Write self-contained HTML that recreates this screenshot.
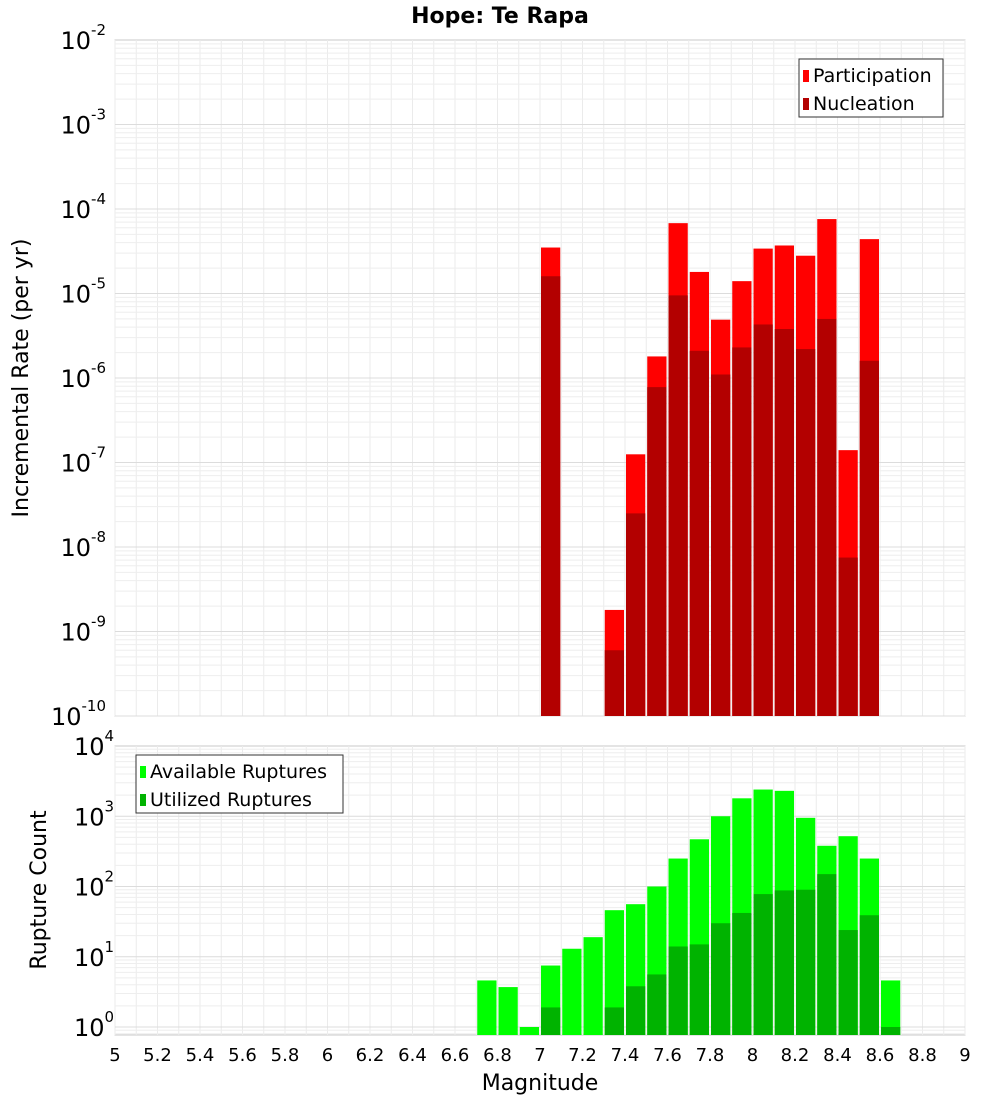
<!DOCTYPE html>
<html><head><meta charset="utf-8"><style>
body{margin:0;background:#fff;font-family:"DejaVu Sans","Liberation Sans",sans-serif;}
</style></head><body>
<svg id="c" width="1000" height="1100" xmlns="http://www.w3.org/2000/svg" style="font-family:'DejaVu Sans','Liberation Sans',sans-serif">
<text x="500" y="23" text-anchor="middle" font-size="22" font-weight="bold">Hope: Te Rapa</text>
<text transform="translate(28,378) rotate(-90)" text-anchor="middle" font-size="22">Incremental Rate (per yr)</text>
<text transform="translate(46,890) rotate(-90)" text-anchor="middle" font-size="22">Rupture Count</text>
<text x="540" y="1090" text-anchor="middle" font-size="22">Magnitude</text>
<g id="g"></g>
</svg>
<script>
const mags=[7.05,7.35,7.45,7.55,7.65,7.75,7.85,7.95,8.05,8.15,8.25,8.35,8.45,8.55];
const participation=[3.5e-5,1.8e-9,1.25e-7,1.8e-6,6.8e-5,1.8e-5,4.9e-6,1.4e-5,3.4e-5,3.7e-5,2.8e-5,7.6e-5,1.4e-7,4.4e-5];
const nucleation=[1.6e-5,6e-10,2.5e-8,7.8e-7,9.5e-6,2.1e-6,1.1e-6,2.3e-6,4.3e-6,3.8e-6,2.2e-6,5e-6,7.5e-9,1.6e-6];
const countMags=[6.75,6.85,6.95,7.05,7.15,7.25,7.35,7.45,7.55,7.65,7.75,7.85,7.95,8.05,8.15,8.25,8.35,8.45,8.55,8.65];
const available=[4.6,3.7,1,7.5,13,19,46,56,100,250,470,1000,1800,2400,2300,950,380,520,250,4.6];
const utilized=[0,0,0,1.9,0,0,1.9,3.8,5.6,14,15,30,42,78,88,90,150,24,39,1];
const xTicks=[5,5.2,5.4,5.6,5.8,6,6.2,6.4,6.6,6.8,7,7.2,7.4,7.6,7.8,8,8.2,8.4,8.6,8.8,9];
const topExps=[-10,-9,-8,-7,-6,-5,-4,-3,-2];
const botExps=[0,1,2,3,4];

const NS="http://www.w3.org/2000/svg",G=document.getElementById('g');
const L=115,R=965;
const X=m=>L+(m-5)/4*(R-L);
const TT=40,TB=716,BT=746,BB=1035;
const YT=v=>TB-(Math.log10(v)+10)*(TB-TT)/8;
const DB=70.25;
const YB=v=>(BT+4*DB)-Math.log10(v)*DB;
function el(t,a,p){const e=document.createElementNS(NS,t);for(const k in a)e.setAttribute(k,a[k]);(p||G).appendChild(e);return e;}
function plot(top,bot,name){
  const bg=el('rect',{x:L,y:top,width:R-L,height:bot-top,fill:'#fff',stroke:'#c8c8c8'});
  
  
  for(let m=5;m<=9.001;m+=0.1){el('line',{x1:X(m),x2:X(m),y1:top,y2:bot,stroke:'#ebebeb'});}
}
plot(TT,TB,'top');plot(BT,BB,'bottom');
for(let e=-10;e<-2;e++)for(let k=1;k<10;k++){const y=YT(k*Math.pow(10,e));el('line',{x1:L,x2:R,y1:y,y2:y,stroke:k==1?'#dcdcdc':'#eeeeee'});}
for(let e=-1;e<4;e++)for(let k=1;k<10;k++){const v=k*Math.pow(10,e);const y=YB(v);if(y>BB||y<BT)continue;el('line',{x1:L,x2:R,y1:y,y2:y,stroke:k==1?'#dcdcdc':'#eeeeee'});}
const w=(R-L)/40;
mags.forEach((m,i)=>{
  const x=X(m)-w/2+1;
  const p=el('rect',{x:x,y:YT(participation[i]),width:w-2,height:TB-YT(participation[i]),fill:'#ff0000'});
  
  
  const n=el('rect',{x:x,y:YT(nucleation[i]),width:w-2,height:TB-YT(nucleation[i]),fill:'#b30000'});
  
  
});
countMags.forEach((m,i)=>{
  const x=X(m)-w/2+1;
  const a=el('rect',{x:x,y:YB(available[i]),width:w-2,height:BB-YB(available[i]),fill:'#00ff00'});
  
  
  if(utilized[i]>0){const u=el('rect',{x:x,y:YB(utilized[i]),width:w-2,height:BB-YB(utilized[i]),fill:'#00b300'});
  
  }
});
topExps.forEach(e=>{const y=YT(Math.pow(10,e));const t=el('text',{x:106,y:y+9,'text-anchor':'end','font-size':24});
  
  t.innerHTML='10<tspan dy="-14" font-size="15">'+e+'</tspan>';
  if(e>-10||true){}});
botExps.forEach(e=>{const y=YB(Math.pow(10,e));const t=el('text',{x:88,y:y+9,'text-anchor':'start','font-size':24});
  t.setAttribute('x',74);
  
  t.innerHTML='10<tspan dy="-14" font-size="15">'+e+'</tspan>';});
xTicks.forEach(m=>{const t=el('text',{x:X(m),y:1061,'text-anchor':'middle','font-size':18});
  
  t.textContent=String(m);});
function legend(x,y,wd,items,name){
  const g=el('g',{});
  el('rect',{x:x,y:y,width:wd,height:58,fill:'#fff',stroke:'#333'},g);
  items.forEach((it,i)=>{el('rect',{x:x+4,y:y+11+i*28,width:6,height:12,fill:it[1]},g);
    const t=el('text',{x:x+14,y:y+23+i*28,'font-size':19},g);t.textContent=it[0];});
}
legend(799,59,144,[['Participation','#ff0000'],['Nucleation','#b30000']],'top-legend');
legend(136,755,207,[['Available Ruptures','#00ff00'],['Utilized Ruptures','#00b300']],'bottom-legend');
</script>
</body></html>
